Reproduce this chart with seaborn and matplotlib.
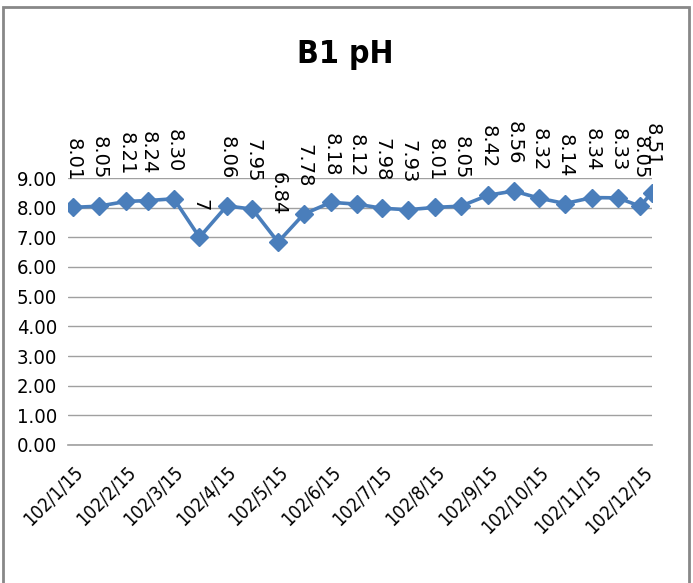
import pandas as pd
import matplotlib
matplotlib.use("Agg")
import matplotlib.pyplot as plt
import matplotlib.dates as mdates
from matplotlib.patches import Rectangle
import seaborn as sns


# sampling dates (ROC year 102 = 2013)
sample_dates = ["2013-01-15", "2013-01-30", "2013-02-15", "2013-02-28",
                "2013-03-15", "2013-03-30", "2013-04-15", "2013-04-30",
                "2013-05-15", "2013-05-30", "2013-06-15", "2013-06-30",
                "2013-07-15", "2013-07-30", "2013-08-15", "2013-08-30",
                "2013-09-15", "2013-09-30", "2013-10-15", "2013-10-30",
                "2013-11-15", "2013-11-30", "2013-12-13", "2013-12-20"]

ph_values = [8.01, 8.05, 8.21, 8.24, 8.30, 7, 8.06, 7.95,
             6.84, 7.78, 8.18, 8.12, 7.98, 7.93, 8.01, 8.05,
             8.42, 8.56, 8.32, 8.14, 8.34, 8.33, 8.05, 8.51]

ph_labels = ["8.01", "8.05", "8.21", "8.24", "8.30", "7", "8.06", "7.95",
             "6.84", "7.78", "8.18", "8.12", "7.98", "7.93", "8.01", "8.05",
             "8.42", "8.56", "8.32", "8.14", "8.34", "8.33", "8.05", "8.51"]

y_ticks = [0, 1, 2, 3, 4, 5, 6, 7, 8, 9]

chart_title = "B1 pH"
line_color = "#4A7EBB"
grid_color = "#A0A0A0"


def rocDate(x, pos=None):
    d = mdates.num2date(x)
    return f"{d.year - 1911}/{d.month}/{d.day}"


def plotPH():
    sns.set_style("white")
    plt.rcParams['font.family'] = ['DejaVu Sans']
    plt.rcParams['font.stretch'] = 'condensed'
    plt.rcParams['text.color'] = 'black'
    plt.rcParams['xtick.color'] = 'black'
    plt.rcParams['ytick.color'] = 'black'

    df = pd.DataFrame({'date': pd.to_datetime(sample_dates), 'pH': ph_values})

    W, H = 693, 583
    fig = plt.figure(figsize=(W / 100, H / 100), dpi=100)
    ax = fig.add_axes([68 / W, 1 - 445 / H, (652 - 68) / W, (445 - 178) / H])

    sns.lineplot(data=df, x='date', y='pH', ax=ax, color=line_color, linewidth=2.6,
                 marker='D', markersize=9, markeredgecolor=line_color, markeredgewidth=1)

    ax.set_ylim(0, 9)
    ax.set_yticks(y_ticks)
    ax.set_yticklabels([f"{t:.2f}" for t in y_ticks], fontsize=14.5, stretch='condensed')
    ax.set_xlim(mdates.date2num(pd.Timestamp("2013-01-12")), mdates.date2num(pd.Timestamp("2013-12-20")))

    ax.xaxis.set_major_locator(mdates.MonthLocator(bymonthday=15))
    ax.xaxis.set_major_formatter(plt.FuncFormatter(rocDate))
    for lab in ax.get_xticklabels():
        lab.set_rotation(45)
        lab.set_ha('right')
        lab.set_rotation_mode('anchor')
        lab.set_fontsize(13.5)
        lab.set_fontstretch('condensed')
    ax.tick_params(axis='x', direction='out', length=8, color=grid_color, width=1, pad=5)
    ax.tick_params(axis='y', length=0, pad=8)

    ax.yaxis.grid(True, color=grid_color, linewidth=1)
    ax.set_axisbelow(True)
    for s in ['left', 'top', 'right']:
        ax.spines[s].set_visible(False)
    ax.spines['bottom'].set_color(grid_color)
    ax.spines['bottom'].set_linewidth(1.2)
    ax.set_xlabel("")
    ax.set_ylabel("")

    # data labels, vertical
    for d, v, lab in zip(df['date'], ph_values, ph_labels):
        ax.annotate(lab, (mdates.date2num(d), v), xytext=(0, 19), textcoords='offset points',
                    rotation=270, ha='center', va='bottom', fontsize=14,
                    family=['DejaVu Sans'], fontstretch='normal', annotation_clip=False)

    fig.text(345 / W, 1 - 55 / H, chart_title, ha='center', va='center',
             fontsize=23, fontweight='bold', fontstretch='condensed')

    fig.patches.append(Rectangle((3 / W, -0.01), (689 - 3) / W, 1 - 7 / H + 0.01,
                                 transform=fig.transFigure, fill=False,
                                 edgecolor='#888888', linewidth=2))

    fig.savefig("out.png", dpi=100)
    plt.close(fig)


if __name__ == "__main__":
    plotPH()
